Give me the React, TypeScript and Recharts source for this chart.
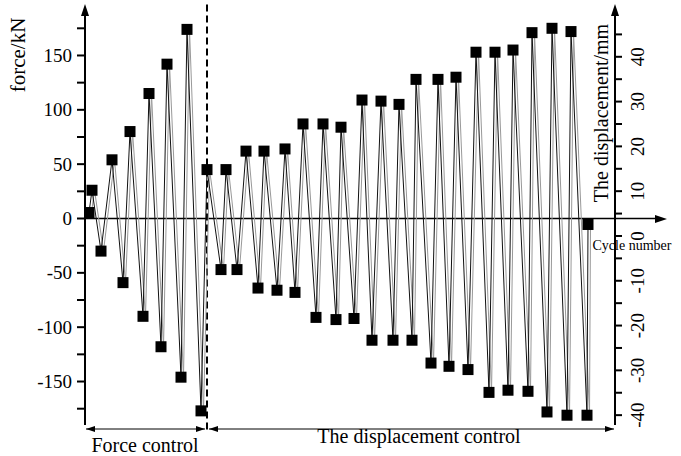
import React from 'react'
import {
  LineChart,
  Line,
  XAxis,
  YAxis,
  ReferenceLine,
} from 'recharts'

// cycle position (arbitrary units along the cycle axis) and peak force in kN
const cycle = [
  0.4, 0.7, 1.6, 2.7, 3.8, 4.5, 5.8, 6.4, 7.6, 8.2, 9.6, 10.2, 11.6,
  12.2, 13.6, 14.1, 15.2, 16.1, 17.3, 17.9, 19.2, 20.0, 21.0, 21.8, 23.1,
  23.8, 25.1, 25.6, 26.9, 27.7, 28.7, 29.6, 30.8, 31.4, 32.7, 33.1, 34.6,
  35.3, 36.4, 37.1, 38.3, 39.1, 40.4, 41.0, 42.3, 42.8, 44.3, 44.7, 46.2,
  46.7, 48.2, 48.6, 50.2, 50.3,
]
const force = [
  5.5, 26, -30, 54, -59, 80, -90, 115, -118, 142, -146, 174, -177,
  45, -47, 45, -47, 62, -64, 62, -66, 64, -68, 87, -91,
  87, -93, 84, -92, 109, -112, 108, -112, 105, -112, 128, -133,
  128, -136, 130, -139, 153, -160, 153, -158, 155, -159, 171, -178,
  175, -181, 172, -181, -5.5,
]

const forceTicks = [-175, -150, -125, -100, -75, -50, -25, 0, 25, 50, 75, 100, 125, 150, 175]
const dispTicks = [-40, -35, -30, -25, -20, -15, -10, -5, 0, 5, 10, 15, 20, 25, 30, 35, 40, 45]
const switchCycle = 12.2

const data = cycle.map((c, i) => ({ c, f: force[i] }))

const serif = 'Liberation Serif'

const Square = (p: any) => {
  if (p.cx == null || p.cy == null) return null
  return <rect key={p.index} x={p.cx - 5.5} y={p.cy - 5.5} width={11} height={11} fill="#000" />
}

const ForceTick = (p: any) => {
  const v = p.payload.value
  if (Math.abs(v) % 50 !== 0) return <g />
  return (
    <text
      x={p.x - 1}
      y={p.y}
      textAnchor="end"
      dominantBaseline="central"
      fontFamily={serif}
      fontSize={19}
      fill="#000"
    >
      {v}
    </text>
  )
}

const DispTick = (p: any) => {
  const v = p.payload.value
  if (Math.abs(v) % 10 !== 0) return <g />
  return (
    <text
      x={p.x + 14}
      y={p.y}
      transform={`rotate(-90 ${p.x + 14} ${p.y})`}
      textAnchor="middle"
      dominantBaseline="central"
      fontFamily={serif}
      fontSize={19}
      fill="#000"
    >
      {v}
    </text>
  )
}

export default function App() {
  return (
    <div
      style={{
        position: 'fixed',
        left: 0,
        top: 0,
        width: 681,
        height: 456,
        background: '#fff',
        fontFamily: serif,
      }}
    >
      <LineChart
        width={681}
        height={456}
        data={data}
        margin={{ top: 12, right: 0, bottom: 31, left: 0 }}
      >
        <XAxis xAxisId="main" type="number" dataKey="c" domain={[0, 53]} allowDataOverflow hide />
        <XAxis xAxisId="shift" type="number" dataKey="c" domain={[-0.25, 52.75]} allowDataOverflow hide />
        <YAxis
          yAxisId="force"
          width={85}
          domain={[-190, 190]}
          allowDataOverflow
          ticks={forceTicks}
          interval={0}
          tickSize={8}
          tickMargin={4}
          stroke="#000"
          strokeWidth={2}
          tick={ForceTick}
        />
        <YAxis
          yAxisId="disp"
          orientation="right"
          width={66}
          type="number"
          domain={[-42.2, 50]}
          allowDataOverflow
          ticks={dispTicks}
          interval={0}
          tickSize={7}
          stroke="#000"
          strokeWidth={2}
          tick={DispTick}
        />
        <ReferenceLine
          xAxisId="main"
          yAxisId="force"
          segment={[{ x: 0, y: 0 }, { x: 57.4, y: 0 }]}
          ifOverflow="visible"
          stroke="#000"
          strokeWidth={1.5}
        />
        <ReferenceLine
          xAxisId="main"
          yAxisId="force"
          segment={[{ x: switchCycle, y: 197 }, { x: switchCycle, y: -195 }]}
          ifOverflow="visible"
          stroke="#000"
          strokeWidth={2}
          strokeDasharray="7 4"
        />
        <Line
          xAxisId="shift"
          yAxisId="force"
          type="linear"
          dataKey="f"
          stroke="#999"
          strokeWidth={1}
          dot={false}
          isAnimationActive={false}
        />
        <Line
          xAxisId="main"
          yAxisId="force"
          type="linear"
          dataKey="f"
          stroke="#111"
          strokeWidth={1}
          dot={Square}
          isAnimationActive={false}
        />
        <Line
          xAxisId="main"
          yAxisId="disp"
          type="linear"
          dataKey="f"
          stroke="none"
          dot={false}
          legendType="none"
          isAnimationActive={false}
          hide
        />
      </LineChart>
      <svg
        width={681}
        height={456}
        style={{ position: 'absolute', left: 0, top: 0, pointerEvents: 'none' }}
        fontFamily={serif}
      >
        {/* axis arrowheads */}
        <polygon points="85,4 81,16 89,16" fill="#000" />
        <polygon points="615,4 611,16 619,16" fill="#000" />
        <polygon points="667,219 655,215 655,223" fill="#000" />
        {/* control range arrows */}
        <line x1={86} y1={429} x2={205} y2={429} stroke="#000" strokeWidth={1} />
        <polygon points="86,429 95,426 95,432" fill="#000" />
        <polygon points="205,429 196,426 196,432" fill="#000" />
        <line x1={209} y1={429} x2={614} y2={429} stroke="#000" strokeWidth={1} />
        <polygon points="209,429 218,426 218,432" fill="#000" />
        <polygon points="614,429 605,426 605,432" fill="#000" />
        <text x={145} y={445} textAnchor="middle" dominantBaseline="central" fontSize={20} fill="#000">
          Force control
        </text>
        <text x={419} y={436} textAnchor="middle" dominantBaseline="central" fontSize={20} fill="#000">
          The displacement control
        </text>
        <text x={632} y={245} textAnchor="middle" dominantBaseline="central" fontSize={14} fill="#000">
          Cycle number
        </text>
        <text
          x={18}
          y={55}
          transform="rotate(-90 18 55)"
          textAnchor="middle"
          dominantBaseline="central"
          fontSize={21}
          fill="#000"
        >
          force/kN
        </text>
        <text
          x={601}
          y={113}
          transform="rotate(-90 601 113)"
          textAnchor="middle"
          dominantBaseline="central"
          fontSize={20}
          fill="#000"
        >
          The displacement/mm
        </text>
      </svg>
    </div>
  )
}
